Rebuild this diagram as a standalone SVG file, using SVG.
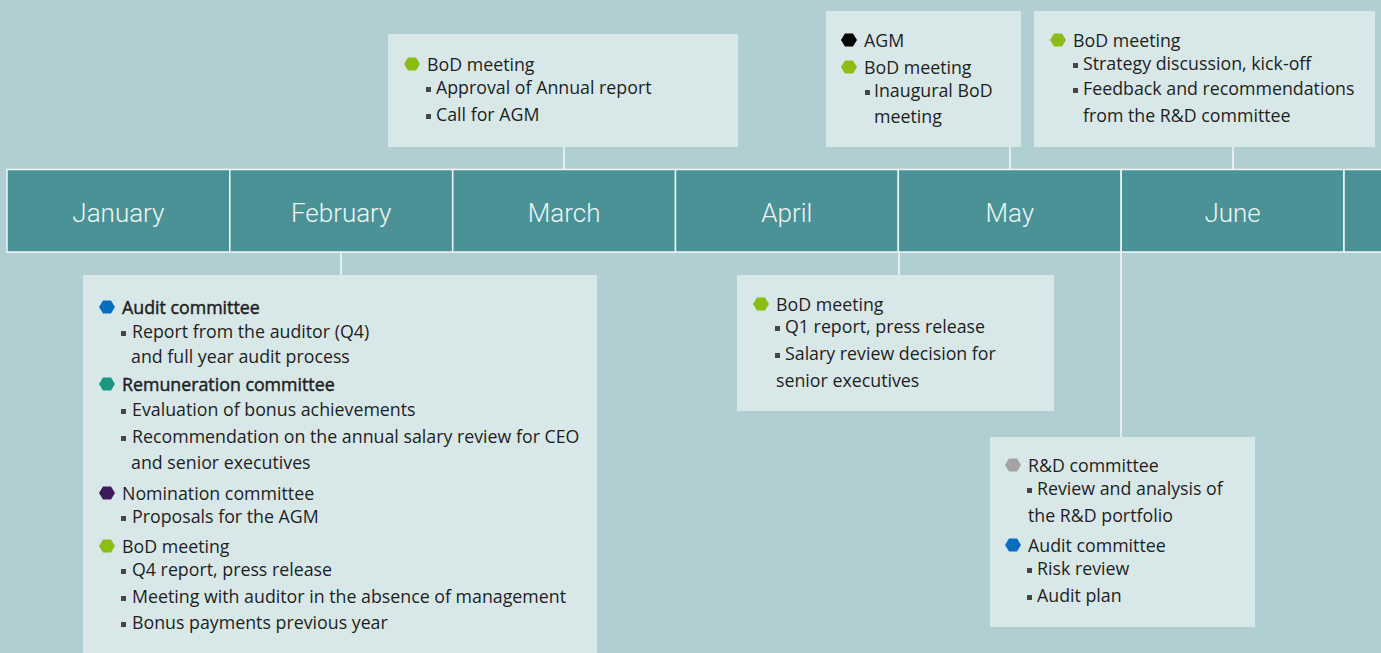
<svg xmlns="http://www.w3.org/2000/svg" width="1381" height="653" viewBox="0 0 1381 653">
<style>
.bg{fill:#b1cfd2}
.cell{fill:#4a9296;stroke:#f2f7f7;stroke-width:1.5}
.month{font-family:Roboto,"Liberation Sans",sans-serif;font-weight:300;font-size:26px;fill:#eef5f5;text-anchor:middle}
.box{fill:#d8e8e8}
.t{font-family:"Open Sans","Noto Sans","Liberation Sans",sans-serif;font-size:17.8px;fill:#1e1e1e}
.b{stroke:#1e1e1e;stroke-width:0.45}
.sq{fill:#454545}
.conn line{stroke:#f4f8f8;stroke-width:1.5}
</style>
<defs>
<polygon id="hex" points="-8,0 -4,-6.5 4,-6.5 8,0 4,6.5 -4,6.5"/>
<rect id="sq" class="sq" width="5" height="5"/>
</defs>
<rect class="bg" x="0" y="0" width="1381" height="653"/>

<g id="timeline">
<rect class="cell" x="7" y="169.5" width="222.8" height="82.5"/>
<rect class="cell" x="229.8" y="169.5" width="222.9" height="82.5"/>
<rect class="cell" x="452.7" y="169.5" width="222.8" height="82.5"/>
<rect class="cell" x="675.5" y="169.5" width="222.8" height="82.5"/>
<rect class="cell" x="898.3" y="169.5" width="222.9" height="82.5"/>
<rect class="cell" x="1121.2" y="169.5" width="222.8" height="82.5"/>
<rect class="cell" x="1344" y="169.5" width="60" height="82.5"/>
<text class="month" x="118.4" y="222">January</text>
<text class="month" x="341.2" y="222">February</text>
<text class="month" x="564.1" y="222">March</text>
<text class="month" x="786.9" y="222">April</text>
<text class="month" x="1009.8" y="222">May</text>
<text class="month" x="1232.6" y="222">June</text>
</g>

<g class="conn" id="connectors">
<line x1="341" y1="252" x2="341" y2="275"/>
<line x1="564" y1="147" x2="564" y2="169.5"/>
<line x1="899" y1="252" x2="899" y2="275"/>
<line x1="1010" y1="147" x2="1010" y2="169.5"/>
<line x1="1233" y1="147" x2="1233" y2="169.5"/>
<line x1="1121" y1="252" x2="1121" y2="437"/>
</g>

<g id="feb">
<rect class="box" x="83" y="275" width="514" height="380"/>
<use href="#hex" x="107" y="307" fill="#0a6ebf"/>
<text class="t b" x="122" y="314">Audit committee</text>
<use href="#sq" x="121" y="331"/>
<text class="t" x="132" y="338">Report from the auditor (Q4)</text>
<text class="t" x="131" y="363">and full year audit process</text>
<use href="#hex" x="107" y="384" fill="#17977b"/>
<text class="t b" x="122" y="391">Remuneration committee</text>
<use href="#sq" x="121" y="409"/>
<text class="t" x="132" y="416">Evaluation of bonus achievements</text>
<use href="#sq" x="121" y="436"/>
<text class="t" x="132" y="443">Recommendation on the annual salary review for CEO</text>
<text class="t" x="131" y="469">and senior executives</text>
<use href="#hex" x="107" y="493" fill="#3e1a5c"/>
<text class="t" x="122" y="500">Nomination committee</text>
<use href="#sq" x="121" y="516"/>
<text class="t" x="132" y="523">Proposals for the AGM</text>
<use href="#hex" x="107" y="546" fill="#8cbd14"/>
<text class="t" x="122" y="553">BoD meeting</text>
<use href="#sq" x="121" y="569"/>
<text class="t" x="132" y="576">Q4 report, press release</text>
<use href="#sq" x="121" y="596"/>
<text class="t" x="132" y="603">Meeting with auditor in the absence of management</text>
<use href="#sq" x="121" y="622"/>
<text class="t" x="132" y="629">Bonus payments previous year</text>
</g>

<g id="march">
<rect class="box" x="388" y="34" width="350" height="113"/>
<use href="#hex" x="412" y="64" fill="#8cbd14"/>
<text class="t" x="427" y="71">BoD meeting</text>
<use href="#sq" x="426" y="87"/>
<text class="t" x="436" y="94">Approval of Annual report</text>
<use href="#sq" x="426" y="114"/>
<text class="t" x="436" y="121">Call for AGM</text>
</g>

<g id="may">
<rect class="box" x="826" y="11" width="195" height="136"/>
<use href="#hex" x="849" y="40" fill="#000000"/>
<text class="t" x="864" y="47">AGM</text>
<use href="#hex" x="849" y="67" fill="#8cbd14"/>
<text class="t" x="864" y="74">BoD meeting</text>
<use href="#sq" x="865" y="90"/>
<text class="t" x="874" y="97">Inaugural BoD</text>
<text class="t" x="874" y="123">meeting</text>
</g>

<g id="june-top">
<rect class="box" x="1034" y="11" width="341" height="136"/>
<use href="#hex" x="1058" y="40" fill="#8cbd14"/>
<text class="t" x="1073" y="47">BoD meeting</text>
<use href="#sq" x="1073" y="63"/>
<text class="t" x="1083" y="70">Strategy discussion, kick-off</text>
<use href="#sq" x="1073" y="88"/>
<text class="t" x="1083" y="95">Feedback and recommendations</text>
<text class="t" x="1083" y="122">from the R&amp;D committee</text>
</g>

<g id="april">
<rect class="box" x="737" y="275" width="317" height="136"/>
<use href="#hex" x="761" y="304" fill="#8cbd14"/>
<text class="t" x="776" y="311">BoD meeting</text>
<use href="#sq" x="775" y="326"/>
<text class="t" x="785" y="333">Q1 report, press release</text>
<use href="#sq" x="775" y="353"/>
<text class="t" x="785" y="360">Salary review decision for</text>
<text class="t" x="776" y="387">senior executives</text>
</g>

<g id="june-bottom">
<rect class="box" x="990" y="437" width="265" height="190"/>
<use href="#hex" x="1013" y="465" fill="#a3a3a3"/>
<text class="t" x="1028" y="472">R&amp;D committee</text>
<use href="#sq" x="1027" y="488"/>
<text class="t" x="1037" y="495">Review and analysis of</text>
<text class="t" x="1028" y="522">the R&amp;D portfolio</text>
<use href="#hex" x="1013" y="545" fill="#0a6ebf"/>
<text class="t" x="1028" y="552">Audit committee</text>
<use href="#sq" x="1027" y="568"/>
<text class="t" x="1037" y="575">Risk review</text>
<use href="#sq" x="1027" y="595"/>
<text class="t" x="1037" y="602">Audit plan</text>
</g>
</svg>
